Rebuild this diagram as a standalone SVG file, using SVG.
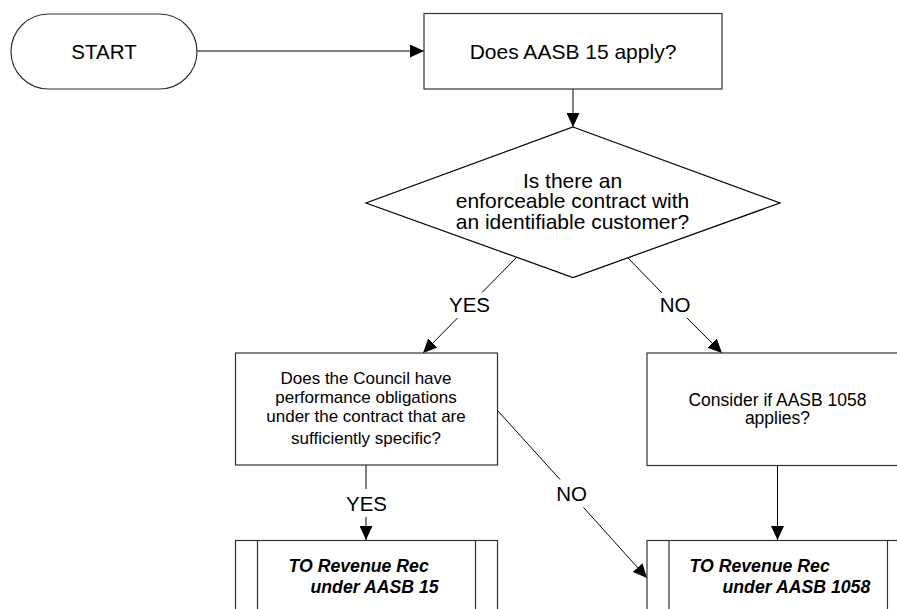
<svg xmlns="http://www.w3.org/2000/svg" width="897" height="609" viewBox="0 0 897 609">
<style>
  text { font-family: "Liberation Sans", Arial, sans-serif; fill: #000; }
  .big { font-size: 21px; text-anchor: middle; }
  .lbl { font-size: 20.5px; text-anchor: middle; }
  .mid { font-size: 17px; text-anchor: middle; }
  .midr { font-size: 17.5px; text-anchor: middle; }
  .bi { font-size: 17.7px; font-weight: bold; font-style: italic; }
  .shape { fill: #fff; stroke: #333; stroke-width: 1.2; }
  .conn { fill: none; stroke: #000; stroke-width: 1; }
</style>
<defs>
  <marker id="arr" markerUnits="userSpaceOnUse" markerWidth="14" markerHeight="13" refX="14" refY="6.5" orient="auto">
    <path d="M0,0 L14,6.5 L0,13 z" fill="#000"/>
  </marker>
</defs>
<rect width="897" height="609" fill="#fff"/>

<g id="connectors">
  <line class="conn" x1="197" y1="51" x2="424" y2="51" marker-end="url(#arr)"/>
  <line class="conn" x1="573" y1="89" x2="573" y2="127" marker-end="url(#arr)"/>
  <line class="conn" x1="516.5" y1="257.5" x2="482" y2="292.5"/>
  <line class="conn" x1="457.5" y1="318" x2="423" y2="353" marker-end="url(#arr)"/>
  <line class="conn" x1="627.5" y1="257.5" x2="662" y2="293"/>
  <line class="conn" x1="687" y1="318" x2="722" y2="353" marker-end="url(#arr)"/>
  <line class="conn" x1="366" y1="465" x2="366" y2="489"/>
  <line class="conn" x1="366" y1="517" x2="366" y2="540" marker-end="url(#arr)"/>
  <line class="conn" x1="498" y1="411" x2="560" y2="479.5"/>
  <line class="conn" x1="583.5" y1="507.5" x2="647" y2="578" marker-end="url(#arr)"/>
  <line class="conn" x1="777.5" y1="465" x2="777.5" y2="540" marker-end="url(#arr)"/>
  <text class="lbl" x="469.5" y="311.5">YES</text>
  <text class="lbl" x="675" y="311.5">NO</text>
  <text class="lbl" x="366.5" y="510.5">YES</text>
  <text class="lbl" x="571.5" y="500.5">NO</text>
</g>

<g id="start">
  <rect class="shape" x="11" y="14" width="186" height="75" rx="37.5" ry="37.5"/>
  <text class="lbl" x="104" y="58.5">START</text>
</g>

<g id="aasb15">
  <rect class="shape" x="424" y="13.5" width="298" height="75.5"/>
  <text class="big" x="573" y="58.5">Does AASB 15 apply?</text>
</g>

<g id="decision">
  <polygon class="shape" points="573,127 780,203 573,277.5 366,203" style="stroke:#000"/>
  <text class="big" x="572.5" y="187.5">Is there an</text>
  <text class="big" x="572.5" y="208">enforceable contract with</text>
  <text class="big" x="572.5" y="228.5">an identifiable customer?</text>
</g>

<g id="council">
  <rect class="shape" x="235.5" y="353" width="262" height="112"/>
  <text class="mid" x="366" y="384">Does the Council have</text>
  <text class="mid" x="366" y="403">performance obligations</text>
  <text class="mid" x="366" y="421.5">under the contract that are</text>
  <text class="mid" x="366" y="444">sufficiently specific?</text>
</g>

<g id="aasb1058">
  <rect class="shape" x="647" y="353" width="270" height="112.5"/>
  <text class="midr" x="777.5" y="405.5">Consider if AASB 1058</text>
  <text class="midr" x="777.5" y="424">applies?</text>
</g>

<g id="rev15">
  <rect class="shape" x="235.5" y="540.5" width="262" height="90"/>
  <line class="shape" x1="257.5" y1="540.5" x2="257.5" y2="630"/>
  <line class="shape" x1="475.5" y1="540.5" x2="475.5" y2="630"/>
  <text class="bi" x="288.5" y="571.5">TO Revenue Rec</text>
  <text class="bi" x="310.5" y="593">under AASB 15</text>
</g>

<g id="rev1058">
  <rect class="shape" x="647" y="540.5" width="270" height="90"/>
  <line class="shape" x1="669" y1="540.5" x2="669" y2="630"/>
  <line class="shape" x1="887.5" y1="540.5" x2="887.5" y2="630"/>
  <text class="bi" x="689.5" y="571.5">TO Revenue Rec</text>
  <text class="bi" x="722.5" y="593">under AASB 1058</text>
</g>
</svg>
